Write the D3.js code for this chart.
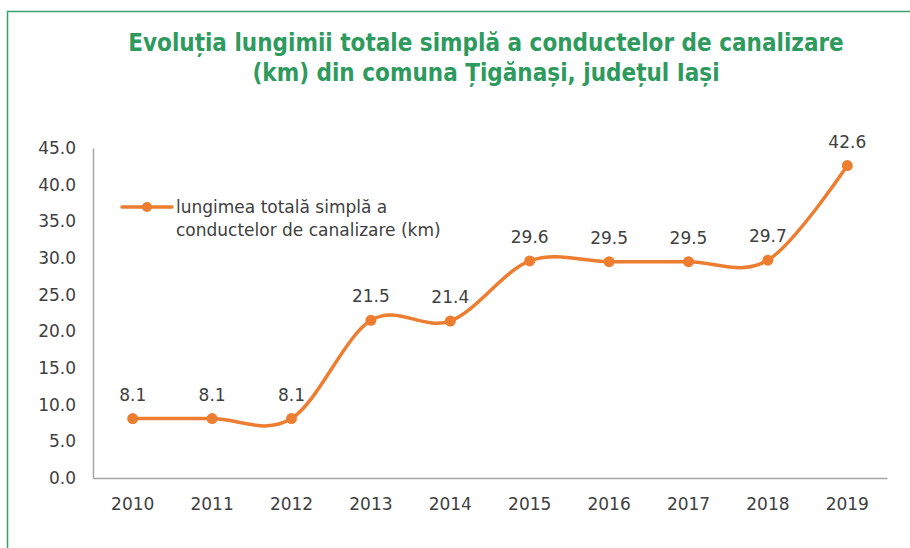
<!DOCTYPE html>
<html>
<head>
<meta charset="utf-8">
<script src="https://cdn.jsdelivr.net/npm/d3@7"></script>
<style>
  body { margin: 0; background: #fff; }
  text { font-family: "DejaVu Sans", Verdana, sans-serif; }
</style>
</head>
<body>
<div class="chart"></div>
<script>
var years = ["2010", "2011", "2012", "2013", "2014", "2015", "2016", "2017", "2018", "2019"];
var lengths = [8.1, 8.1, 8.1, 21.5, 21.4, 29.6, 29.5, 29.5, 29.7, 42.6];
var yTicks = [0, 5, 10, 15, 20, 25, 30, 35, 40, 45];
var titleLines = ["Evoluția lungimii totale simplă a conductelor de canalizare",
                  "(km) din comuna Țigănași, județul Iași"];
var legendLines = ["lungimea totală simplă a", "conductelor de canalizare (km)"];

var svgWidth = 910;
var svgHeight = 548;
var margin = { top: 148, right: 23, bottom: 70, left: 93 };
var width = svgWidth - margin.left - margin.right;
var height = svgHeight - margin.top - margin.bottom;

var orange = "#ED7D31";
var textColor = "#404040";
var fontSize = "17px";

var data = years.map((y, i) => ({ year: y, value: lengths[i] }));

var svg = d3.select(".chart")
  .append("svg")
  .attr("width", svgWidth)
  .attr("height", svgHeight);

// green frame (top + left edges visible)
svg.append("path")
  .attr("d", "M7.5,548 V11.5 H910")
  .attr("fill", "none")
  .attr("stroke", "#3a9f6a")
  .attr("stroke-width", 1.5);

// title
svg.append("g").selectAll("text")
  .data(titleLines)
  .enter()
  .append("text")
  .attr("x", 486)
  .attr("y", (d, i) => 51 + i * 30)
  .attr("text-anchor", "middle")
  .attr("fill", "#2E9A5E")
  .style("font-family", "'DejaVu Sans Condensed', 'DejaVu Sans', sans-serif")
  .style("font-size", "24px")
  .style("font-weight", "bold")
  .text(d => d);

var chartGroup = svg.append("g")
  .attr("transform", `translate(${margin.left}, ${margin.top})`);

var xScale = d3.scaleBand()
  .domain(years)
  .range([0, width]);

var yScale = d3.scaleLinear()
  .domain([0, 45])
  .range([height, 0]);

var leftAxis = d3.axisLeft(yScale)
  .tickValues(yTicks)
  .tickFormat(d3.format(".1f"))
  .tickSize(0)
  .tickPadding(17);

var bottomAxis = d3.axisBottom(xScale)
  .tickSize(0)
  .tickPadding(20);

var yAxis = chartGroup.append("g").call(leftAxis);
var xAxis = chartGroup.append("g")
  .attr("transform", `translate(0, ${height})`)
  .call(bottomAxis);

[yAxis, xAxis].forEach(function(ax) {
  ax.select(".domain").attr("stroke", "#a6a6a6").attr("stroke-width", 1.5);
  ax.selectAll("text")
    .attr("fill", textColor)
    .style("font-size", fontSize)
    .style("font-family", "'DejaVu Sans', sans-serif");
});

var line = d3.line()
  .x(d => xScale(d.year) + xScale.bandwidth() / 2)
  .y(d => yScale(d.value))
  .curve(d3.curveCardinal.tension(0));

chartGroup.append("path")
  .datum(data)
  .attr("d", line)
  .attr("fill", "none")
  .attr("stroke", orange)
  .attr("stroke-width", 3.5)
  .attr("stroke-linecap", "round");

chartGroup.selectAll("circle")
  .data(data)
  .enter()
  .append("circle")
  .attr("cx", d => xScale(d.year) + xScale.bandwidth() / 2)
  .attr("cy", d => yScale(d.value))
  .attr("r", 5.5)
  .attr("fill", orange);

chartGroup.selectAll(".lbl")
  .data(data)
  .enter()
  .append("text")
  .attr("class", "lbl")
  .attr("x", d => xScale(d.year) + xScale.bandwidth() / 2)
  .attr("y", d => yScale(d.value) - 18)
  .attr("text-anchor", "middle")
  .attr("fill", textColor)
  .style("font-size", fontSize)
  .text(d => d3.format(".1f")(d.value));

// legend
var legend = svg.append("g").attr("transform", "translate(122, 207)");
legend.append("line")
  .attr("x1", 0).attr("x2", 50)
  .attr("stroke", orange)
  .attr("stroke-width", 3.5)
  .attr("stroke-linecap", "round");
legend.append("circle")
  .attr("cx", 25).attr("r", 5)
  .attr("fill", orange);
legend.selectAll("text")
  .data(legendLines)
  .enter()
  .append("text")
  .attr("x", 54)
  .attr("y", (d, i) => 6 + i * 23)
  .attr("fill", textColor)
  .style("font-size", fontSize)
  .text(d => d);
</script>
</body>
</html>
